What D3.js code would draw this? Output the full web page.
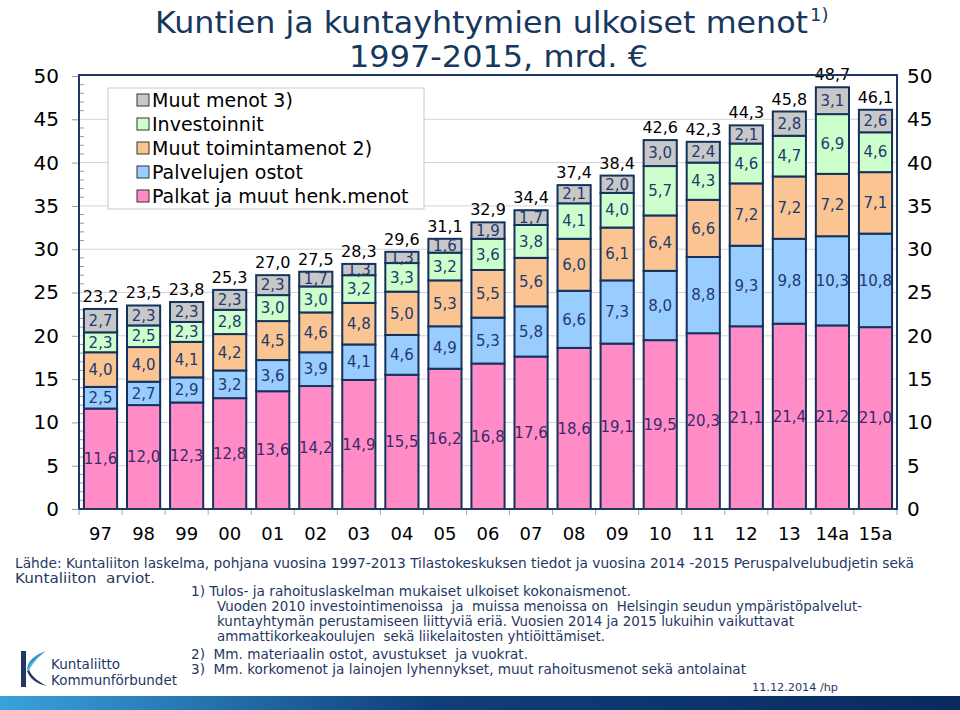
<!DOCTYPE html>
<html><head><meta charset="utf-8">
<script src="https://cdn.jsdelivr.net/npm/d3@7"></script>
<style>body{margin:0;background:#fff}svg{display:block}text{font-family:"DejaVu Sans",Verdana,sans-serif}</style>
</head><body><svg id="c" width="960" height="710"></svg>
<script>
const years = ["97","98","99","00","01","02","03","04","05","06","07","08","09","10","11","12","13","14a","15a"];
const palkat = [11.6,12.0,12.3,12.8,13.6,14.2,14.9,15.5,16.2,16.8,17.6,18.6,19.1,19.5,20.3,21.1,21.4,21.2,21.0];
const ostot = [2.5,2.7,2.9,3.2,3.6,3.9,4.1,4.6,4.9,5.3,5.8,6.6,7.3,8.0,8.8,9.3,9.8,10.3,10.8];
const muutToim = [4.0,4.0,4.1,4.2,4.5,4.6,4.8,5.0,5.3,5.5,5.6,6.0,6.1,6.4,6.6,7.2,7.2,7.2,7.1];
const investoinnit = [2.3,2.5,2.3,2.8,3.0,3.0,3.2,3.3,3.2,3.6,3.8,4.1,4.0,5.7,4.3,4.6,4.7,6.9,4.6];
const muutMenot = [2.7,2.3,2.3,2.3,2.3,1.7,1.3,1.3,1.6,1.9,1.7,2.1,2.0,3.0,2.4,2.1,2.8,3.1,2.6];
const totals = [23.2,23.5,23.8,25.3,27.0,27.5,28.3,29.6,31.1,32.9,34.4,37.4,38.4,42.6,42.3,44.3,45.8,48.7,46.1];
const seriesNames = ["Palkat ja muut henk.menot","Palvelujen ostot","Muut toimintamenot 2)","Investoinnit","Muut menot 3)"];
const seriesColors = ["#ff8cc6","#99ccff","#fac493","#ccffcc","#c8c8c8"];
const yTicks = [0,5,10,15,20,25,30,35,40,45,50];

const svg = d3.select("#c");
const navy = "#17375e";
const x = d3.scaleBand().domain(years).range([79,897]).paddingInner(0.23).paddingOuter(0.115);
const y = d3.scaleLinear().domain([0,50]).range([509,76]);

// title
svg.append("text").attr("x",155).attr("y",33).attr("font-size",30).attr("fill",navy)
  .attr("textLength",653).attr("lengthAdjust","spacingAndGlyphs")
  .text("Kuntien ja kuntayhtymien ulkoiset menot");
svg.append("text").attr("x",810).attr("y",21).attr("font-size",18).attr("fill",navy).text("1)");
svg.append("text").attr("x",349).attr("y",67).attr("font-size",30).attr("fill",navy)
  .attr("textLength",299).attr("lengthAdjust","spacingAndGlyphs")
  .text("1997-2015, mrd. €");

// gridlines
svg.append("g").selectAll("line").data(yTicks.filter(d=>d>0&&d<50)).join("line")
  .attr("x1",79).attr("x2",897).attr("y1",d=>y(d)).attr("y2",d=>y(d))
  .attr("stroke","#d4d4d4").attr("stroke-width",1);

// left axis
const gl = svg.append("g").attr("transform","translate(79,0)")
  .call(d3.axisLeft(y).tickValues(yTicks).tickSize(7).tickFormat(d3.format("d")));
gl.select(".domain").remove();
gl.selectAll(".tick line").attr("stroke","#999");
gl.selectAll(".tick text").attr("font-size",20).attr("fill","#000").attr("x",-20).attr("font-family","DejaVu Sans");
// minor ticks
svg.append("g").selectAll("line").data(d3.range(1,50).filter(d=>d%5!==0)).join("line")
  .attr("x1",79).attr("x2",84).attr("y1",d=>y(d)).attr("y2",d=>y(d)).attr("stroke","#999");
// right axis labels
const gr = svg.append("g").attr("transform","translate(897,0)")
  .call(d3.axisRight(y).tickValues(yTicks).tickSize(0).tickFormat(d3.format("d")));
gr.select(".domain").remove();
gr.selectAll(".tick text").attr("font-size",20).attr("fill","#000").attr("x",10).attr("font-family","DejaVu Sans");

// x axis
const gx = svg.append("g").attr("transform","translate(0,509)")
  .call(d3.axisBottom(x).tickSize(0).tickPadding(18));
gx.select(".domain").remove();
gx.selectAll(".tick text").attr("font-size",18).attr("fill","#000").attr("font-family","DejaVu Sans");
const step = x.step();
svg.append("g").selectAll("line").data(d3.range(years.length+1)).join("line")
  .attr("x1",i=>79+i*step).attr("x2",i=>79+i*step).attr("y1",509).attr("y2",515).attr("stroke","#aaa");

// stacked bars
const table = years.map((yr,i)=>({yr, s0:palkat[i], s1:ostot[i], s2:muutToim[i], s3:investoinnit[i], s4:muutMenot[i]}));
const stack = d3.stack().keys(["s0","s1","s2","s3","s4"])(table);
const fmt = v => v.toFixed(1).replace(".",",");
stack.forEach((layer,k)=>{
  const g = svg.append("g");
  g.selectAll("rect").data(layer).join("rect")
    .attr("x",d=>x(d.data.yr)).attr("width",x.bandwidth())
    .attr("y",d=>y(d[1])).attr("height",d=>y(d[0])-y(d[1]))
    .attr("fill",seriesColors[k]).attr("stroke","#15325c").attr("stroke-width",2);
  g.selectAll("text").data(layer).join("text")
    .attr("x",d=>x(d.data.yr)+x.bandwidth()/2).attr("y",d=>(y(d[0])+y(d[1]))/2)
    .attr("dy","0.35em").attr("text-anchor","middle").attr("font-size",15)
    .attr("fill",k===0?"#3a2a6a":"#1f3a6e")
    .text(d=>fmt(d.data["s"+k]));
});
// totals
svg.append("g").selectAll("text").data(table).join("text")
  .attr("x",d=>x(d.yr)+x.bandwidth()/2)
  .attr("y",(d,i)=>y(d.s0+d.s1+d.s2+d.s3+d.s4)-7)
  .attr("text-anchor","middle").attr("font-size",16).attr("fill","#000")
  .text((d,i)=>fmt(totals[i]));

// frame
svg.append("path").attr("d",`M79,509V75H897V509H79`).attr("fill","none").attr("stroke","#1f3864").attr("stroke-width",2);

// legend
const lg = svg.append("g");
lg.append("rect").attr("x",108).attr("y",88).attr("width",316).attr("height",121)
  .attr("fill","#fff").attr("stroke","#c8c8c8").attr("stroke-width",1);
const legendOrder = [4,3,2,1,0];
legendOrder.forEach((k,j)=>{
  const cy = 100 + j*24;
  lg.append("rect").attr("x",137).attr("y",cy-6).attr("width",12).attr("height",12)
    .attr("fill",seriesColors[k]).attr("stroke","#333").attr("stroke-width",1);
  lg.append("text").attr("x",152).attr("y",cy).attr("dy","0.35em").attr("font-size",19).attr("fill","#000")
    .text(seriesNames[k]);
});

// footer
const foot = [
  [15,568,"Lähde: Kuntaliiton laskelma, pohjana vuosina 1997-2013 Tilastokeskuksen tiedot ja vuosina 2014 -2015 Peruspalvelubudjetin sekä",899],
  [15,583,"Kuntaliiton  arviot.",140],
  [191,596,"1) Tulos- ja rahoituslaskelman mukaiset ulkoiset kokonaismenot.",440],
  [217,611,"Vuoden 2010 investointimenoissa  ja  muissa menoissa on  Helsingin seudun ympäristöpalvelut-",645],
  [217,626,"kuntayhtymän perustamiseen liittyviä eriä. Vuosien 2014 ja 2015 lukuihin vaikuttavat",577],
  [217,641,"ammattikorkeakoulujen  sekä liikelaitosten yhtiöittämiset.",388],
  [191,659,"2)  Mm. materiaalin ostot, avustukset  ja vuokrat.",337],
  [191,674,"3)  Mm. korkomenot ja lainojen lyhennykset, muut rahoitusmenot sekä antolainat",555]
];
foot.forEach(([fx,fy,t,w])=>{
  svg.append("text").attr("x",fx).attr("y",fy).attr("font-size",14).attr("fill","#1f3864")
    .attr("textLength",w).attr("lengthAdjust","spacingAndGlyphs").style("white-space","pre").text(t);
});
svg.append("text").attr("x",752).attr("y",691).attr("font-size",11).attr("fill","#1f3864")
  .attr("textLength",86).attr("lengthAdjust","spacingAndGlyphs").text("11.12.2014 /hp");

// logo
const logo = svg.append("g");
logo.append("rect").attr("x",21).attr("y",651).attr("width",5).attr("height",36).attr("fill","#1f3864");
logo.append("path").attr("d","M46,651 C34,655 27,662 27,670 C31,664 37,657 46,651Z").attr("fill","#2a8fd0");
logo.append("path").attr("d","M46,651 C38,656 30,663 27,670 L29,671 C32,664 38,657 46,651Z").attr("fill","#5cb8e8");
logo.append("path").attr("d","M27,671 C30,679 37,684 47,686 C39,682 32,677 29,670Z").attr("fill","#1f3864");
logo.append("text").attr("x",51).attr("y",669).attr("font-size",14).attr("fill","#1f3864")
  .attr("textLength",69).attr("lengthAdjust","spacingAndGlyphs").text("Kuntaliitto");
logo.append("text").attr("x",51).attr("y",685).attr("font-size",14).attr("fill","#1f3864")
  .attr("textLength",126).attr("lengthAdjust","spacingAndGlyphs").text("Kommunförbundet");

// bottom gradient band
const defs = svg.append("defs");
const grad = defs.append("linearGradient").attr("id","band").attr("x1","0").attr("x2","1");
grad.append("stop").attr("offset","0").attr("stop-color","#3aa2dc");
grad.append("stop").attr("offset","0.45").attr("stop-color","#0f3f7a");
grad.append("stop").attr("offset","1").attr("stop-color","#0a2a5e");
svg.append("rect").attr("x",0).attr("y",696).attr("width",960).attr("height",14).attr("fill","url(#band)");
</script></body></html>
